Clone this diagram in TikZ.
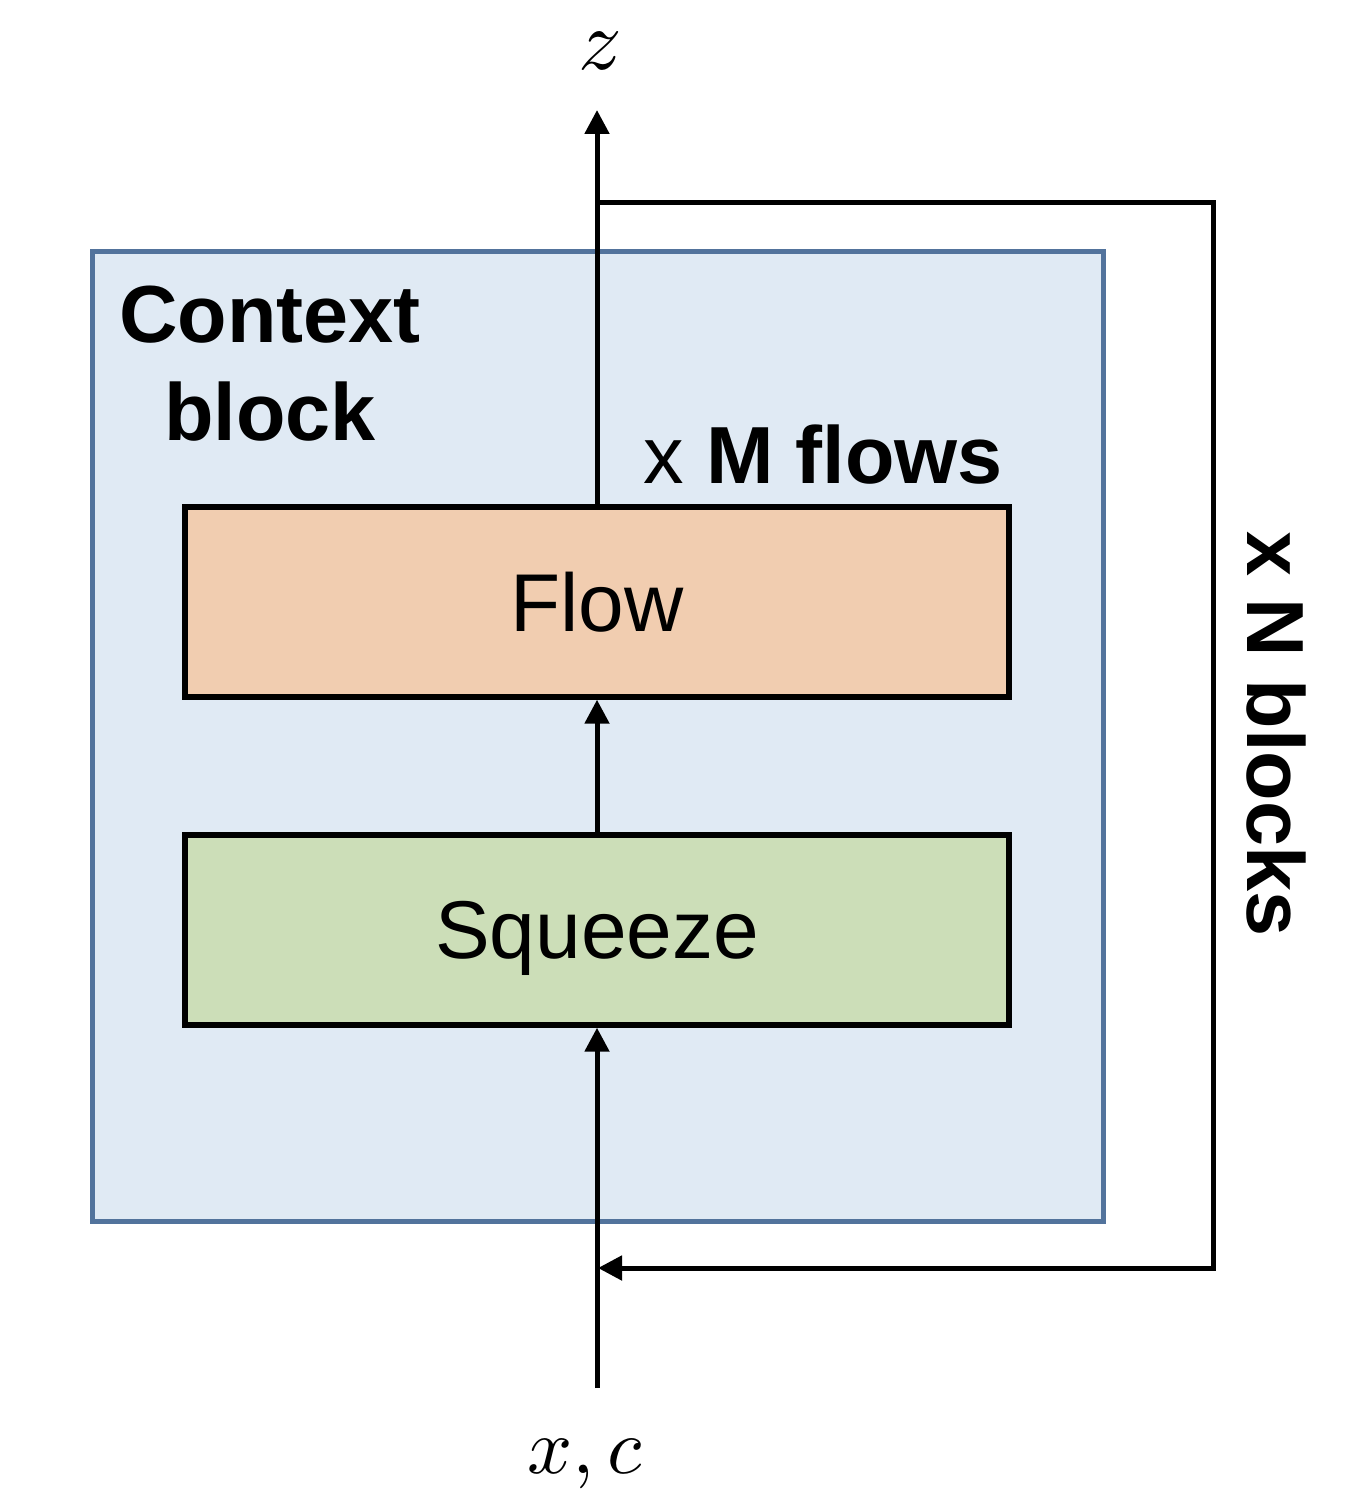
\documentclass[tikz,border=0pt]{standalone}
\usepackage{fontspec}
\setmainfont{Liberation Sans}
\usetikzlibrary{arrows.meta}
\definecolor{ctxfill}{HTML}{E0EAF4}
\definecolor{ctxdraw}{HTML}{52739C}
\definecolor{flowfill}{HTML}{F1CDB0}
\definecolor{sqfill}{HTML}{CCDEB8}
\begin{document}
\begin{tikzpicture}[x=0.5pt,y=-0.5pt,
  box/.style={draw=black,line width=2.7pt,minimum width=412pt,minimum height=95pt,inner sep=0pt,text depth=0pt,font=\fontsize{41}{48}\selectfont},
  arr/.style={line width=2.5pt,-{Triangle[width=12pt,length=12pt]}},
  lbl/.style={font=\fontsize{40.5}{49}\selectfont\bfseries,inner sep=0pt},
  mathlbl/.style={font=\normalsize,inner sep=0pt,scale=4.3}]
\useasboundingbox (0,0) rectangle (1364,1508);
% context block
\node[draw=ctxdraw,fill=ctxfill,line width=2.5pt,minimum width=505.5pt,minimum height=484.5pt,inner sep=0pt] (ctx) at (597.5,736.5) {};
\node[lbl,align=center] (ctxlbl) at (270,364) {Context\\block};
% boxes
\node[box,fill=flowfill] (flow) at (597,602) {Flow};
\node[box,fill=sqfill] (sq) at (597,930) {Squeeze};
\node[inner sep=0pt,font=\fontsize{40.5}{48}\selectfont,anchor=base] (mflows) at (823,483) {x \textbf{M flows}};
% coordinates
\coordinate (in) at (597,1388);
\coordinate (top) at (597,110);
\coordinate (ls) at (597,203);
\coordinate (lr) at (1213,203);
\coordinate (lb) at (1213,1268);
\coordinate (le) at (598,1268);
% labels
\node[mathlbl,anchor=base] (zlbl) at (600,70) {$z$};
\node[mathlbl,anchor=base,scale=0.92] (xclbl) at (585,1473) {$x,c$};
\node[lbl,rotate=-90] (nblocks) at (1276,734) {x N blocks};
% connectors
\draw[arr] (in) -- (sq.south);
\draw[arr] (sq.north) -- (flow.south);
\draw[arr] (flow.north) -- (top);
\draw[arr,line join=miter] (ls) -- (lr) -- (lb) -- (le);
\end{tikzpicture}
\end{document}
